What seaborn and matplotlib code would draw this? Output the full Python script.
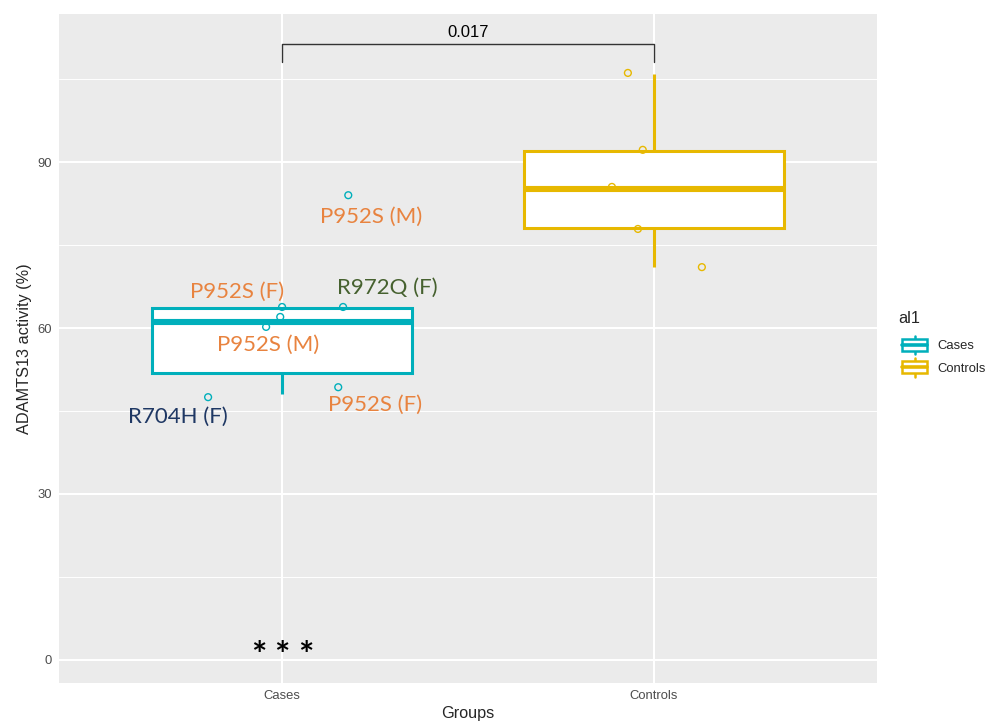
import seaborn as sns
import matplotlib.pyplot as plt
import pandas as pd
import numpy as np
from matplotlib.patches import Patch, Rectangle
from matplotlib.lines import Line2D
from matplotlib.legend_handler import HandlerBase

# Data
groups = ['Cases', 'Controls']
colors = ['#00AFBB', '#E7B800']

# values behind the boxes
cases_box = [48.1, 49.3, 54.5, 61.1, 63.6, 63.6, 84.0]
controls_box = [71.0, 78.1, 85.1, 92.0, 105.9]

# jittered points as they appear (x offset from group centre, y value)
cases_pt_dx = [0.178, 0.0, 0.164, -0.005, -0.043, 0.151, -0.199]
cases_pt_y = [84.0, 63.8, 63.8, 62.0, 60.2, 49.3, 47.5]
controls_pt_dx = [-0.070, -0.030, -0.113, -0.043, 0.129]
controls_pt_y = [106.1, 92.2, 85.5, 77.9, 71.0]

# variant labels placed next to the case points
variant_labels = ['P952S (M)', 'P952S (F)', 'R972Q (F)', 'P952S (M)', 'R704H (F)', 'P952S (F)']
variant_x = [0.239, -0.121, 0.282, -0.038, -0.280, 0.250]
variant_y = [80.1, 66.5, 67.2, 56.9, 43.9, 46.1]
variant_colors = ['#E8833F', '#E8833F', '#46612F', '#E8833F', '#1F3864', '#E8833F']

p_value = '0.017'

df = pd.DataFrame({
    'Groups': ['Cases'] * len(cases_box) + ['Controls'] * len(controls_box),
    'activity': cases_box + controls_box,
})

sns.set_style("darkgrid", {'axes.facecolor': '#EBEBEB', 'grid.color': 'white'})
plt.rcParams['font.family'] = ['Liberation Sans', 'DejaVu Sans']

fig = plt.figure(figsize=(9.95, 7.22), dpi=100)
ax = fig.add_axes([59 / 995, 1 - 683 / 722, 818 / 995, 669 / 722])

for g, c in zip(groups, colors):
    sns.boxplot(
        data=df[df['Groups'] == g], x='Groups', y='activity', order=groups,
        color=c, linecolor=c, fill=True, width=0.7, linewidth=2.2,
        showcaps=False, showfliers=False,
        boxprops=dict(facecolor='white'),
        medianprops=dict(linewidth=4.4),
        ax=ax, zorder=2,
    )

# jitter points
for i, (dx, ys, c) in enumerate([(cases_pt_dx, cases_pt_y, colors[0]),
                                  (controls_pt_dx, controls_pt_y, colors[1])]):
    sns.scatterplot(x=np.array(dx) + i, y=ys, s=24, marker='o',
                    facecolor='none', edgecolor=c, linewidth=1.0, ax=ax, zorder=4)

# variant annotations
for lab, x, y, c in zip(variant_labels, variant_x, variant_y, variant_colors):
    ax.text(x, y, lab, color=c, fontsize=16, ha='center', va='center',
            family=['Lato', 'DejaVu Sans'], zorder=5)

# asterisks under cases
for dx in [-0.063, 0.0, 0.065]:
    ax.text(dx, 0.6, '*', fontsize=26, ha='center', va='center', color='black',
            family=['Lato', 'DejaVu Sans'], fontweight='bold', zorder=5)

# significance bracket
ax.plot([0, 0, 1, 1], [108.1, 111.3, 111.3, 108.1], color='#333333', lw=1.0,
        zorder=5, clip_on=False)
ax.text(0.5, 112.0, p_value, ha='center', va='bottom', fontsize=12, color='black')

ax.set_xlim(-0.6, 1.6)
ax.set_ylim(-4.16, 116.75)
ax.set_yticks([0, 30, 60, 90])
ax.set_yticks([15, 45, 75, 105], minor=True)
ax.grid(True, which='major', color='white', lw=1.5)
ax.grid(True, which='minor', color='white', lw=0.7)
ax.tick_params(axis='both', which='major', length=3, width=1, color='#333333',
               labelsize=9.4, labelcolor='#4D4D4D', pad=2)
ax.tick_params(axis='both', which='minor', length=0)
for s in ax.spines.values():
    s.set_visible(False)
ax.set_xlabel('Groups', fontsize=11.7, labelpad=3)
ax.set_ylabel('ADAMTS13 activity (%)', fontsize=11.7, labelpad=4)


class BoxGlyph(HandlerBase):
    # ggplot-style boxplot legend key
    def create_artists(self, legend, orig, xd, yd, w, h, fontsize, trans):
        c = orig.get_edgecolor()
        x0, y0 = -xd, -yd
        bx0, bx1 = x0 + 0.15 * w, x0 + w
        cx = (bx0 + bx1) / 2
        vline = Line2D([cx, cx], [y0, y0 + h], color=c, lw=1.8, transform=trans)
        box = Rectangle((bx0, y0 + 0.18 * h), bx1 - bx0, 0.64 * h,
                        facecolor='white', edgecolor=c, lw=1.8, transform=trans)
        med = Line2D([bx0, bx1], [y0 + h / 2] * 2, color=c, lw=2.6, transform=trans)
        return [vline, box, med]


handles = [Patch(edgecolor=c, facecolor='white') for c in colors]
leg = fig.legend(handles, groups, title='al1', loc='upper left',
                 bbox_to_anchor=(898 / 995, 1 - 311 / 722), frameon=False,
                 fontsize=9.4, title_fontsize=11.7, alignment='left',
                 handler_map={Patch: BoxGlyph()}, handlelength=2.25,
                 handleheight=1.8, labelspacing=0.3, handletextpad=0.8,
                 borderpad=0.0, borderaxespad=0)
leg._legend_box.sep = 7

fig.savefig('out.png', dpi=100)
